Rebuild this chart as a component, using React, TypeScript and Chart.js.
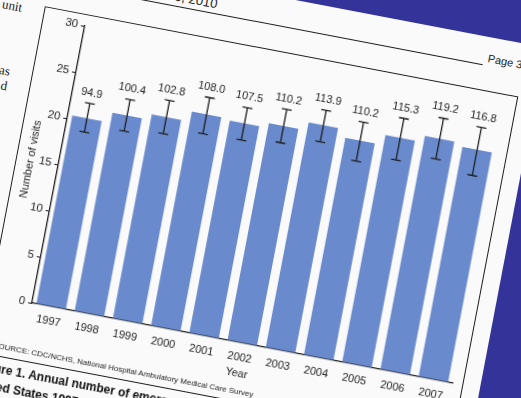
import React, { useEffect, useRef } from 'react';
import { Chart, registerables } from 'chart.js';

Chart.register(...registerables);

// ---- data ----
const years = ['1997', '1998', '1999', '2000', '2001', '2002', '2003', '2004', '2005', '2006', '2007'];
const barValues = [20.4, 21.5, 22.1, 23.2, 23.0, 23.5, 24.4, 23.5, 24.6, 25.3, 24.9];
const errorLow = [18.9, 19.8, 20.3, 21.1, 21.2, 21.7, 22.6, 21.3, 22.2, 23.1, 22.1];
const errorHigh = [22.0, 23.2, 23.9, 25.0, 24.7, 25.3, 26.0, 25.5, 26.7, 27.5, 27.3];
const visitLabels = ['94.9', '100.4', '102.8', '108.0', '107.5', '110.2', '113.9', '110.2', '115.3', '119.2', '116.8'];
const yMin = 0;
const yMax = 30;
const yStep = 5;

const SANS = '"Liberation Sans", Arial, sans-serif';
const SERIF = '"Liberation Serif", "Times New Roman", serif';
const INK = '#1e1e1e';

const errorBarPlugin = {
  id: 'errorBars',
  afterDatasetsDraw(chart: any) {
    const { ctx } = chart;
    const y = chart.scales.y;
    const meta = chart.getDatasetMeta(0);
    ctx.save();
    meta.data.forEach((bar: any, i: number) => {
      const x = bar.x;
      const yl = y.getPixelForValue(errorLow[i]);
      const yh = y.getPixelForValue(errorHigh[i]);
      ctx.strokeStyle = INK;
      ctx.lineWidth = 1.3;
      ctx.beginPath();
      ctx.moveTo(x, yl);
      ctx.lineTo(x, yh);
      ctx.moveTo(x - 5, yl);
      ctx.lineTo(x + 5, yl);
      ctx.moveTo(x - 5, yh);
      ctx.lineTo(x + 5, yh);
      ctx.stroke();
      ctx.fillStyle = INK;
      ctx.font = '11px ' + SANS;
      ctx.textAlign = 'center';
      ctx.textBaseline = 'middle';
      ctx.fillText(visitLabels[i], x, yh - 10.5);
    });
    ctx.restore();
  },
};

function BarChart() {
  const ref = useRef<HTMLCanvasElement | null>(null);
  useEffect(() => {
    if (!ref.current) return;
    const chart = new Chart(ref.current, {
      type: 'bar',
      data: {
        labels: years,
        datasets: [
          {
            data: barValues,
            backgroundColor: '#6a8ace',
            borderWidth: 0,
            barPercentage: 0.77,
            categoryPercentage: 1.0,
          },
        ],
      },
      plugins: [errorBarPlugin],
      options: {
        responsive: false,
        animation: false,
        devicePixelRatio: 1,
        layout: { padding: { top: 38, right: 17, left: 0, bottom: 0 } },
        plugins: { legend: { display: false }, tooltip: { enabled: false } },
        scales: {
          x: {
            afterFit: (s: any) => {
              s.height = 50;
            },
            grid: { display: false, drawTicks: false },
            border: { display: true, color: INK, width: 1.3 },
            ticks: { color: INK, font: { size: 11, family: SANS }, padding: 8, maxRotation: 0, autoSkip: false },
            title: {
              display: true,
              text: 'Year',
              color: INK,
              font: { size: 11, family: SANS },
              padding: { top: 0, bottom: 12 },
            },
          },
          y: {
            min: yMin,
            max: yMax,
            afterFit: (s: any) => {
              s.width = 60;
            },
            grid: { display: true, drawOnChartArea: false, drawTicks: true, tickLength: 4, color: INK, lineWidth: 1 },
            border: { display: true, color: INK, width: 1.3 },
            ticks: { stepSize: yStep, color: INK, font: { size: 11.5, family: SANS }, padding: 3 },
            title: {
              display: true,
              text: 'Number of visits',
              color: INK,
              font: { size: 11, family: SANS },
              padding: { top: 25, bottom: 0 },
            },
          },
        },
      },
    });
    return () => chart.destroy();
  }, []);
  return (
    <canvas
      ref={ref}
      width={505}
      height={370}
      style={{ position: 'absolute', left: -60, top: -320, width: 505, height: 370 }}
    />
  );
}

const abs = (o: any) => ({ position: 'absolute' as const, whiteSpace: 'nowrap' as const, ...o });

export default function App() {
  return (
    <div
      style={{
        position: 'fixed',
        left: 0,
        top: 0,
        width: 521,
        height: 398,
        overflow: 'hidden',
        background: '#34339a',
      }}
    >
      <div
        style={{
          position: 'absolute',
          left: 32,
          top: 303,
          width: 0,
          height: 0,
          transform: 'rotate(10.8deg)',
          transformOrigin: '0 0',
        }}
      >
        {/* page */}
        <div style={abs({ left: -700, top: -347, width: 1156, height: 800, background: '#fafafa' })} />
        {/* header */}
        <div style={abs({ left: -700, top: -319, width: 1098, height: 1.2, background: INK })} />
        <div
          style={abs({
            right: -126,
            top: -336,
            font: '13px ' + SANS,
            lineHeight: '16px',
            color: '#222',
          })}
        >
          National Health Statistics Reports ■ Number 26 ■ August 6, 2010
        </div>
        <div style={abs({ left: 402, top: -333, font: '11px ' + SANS, lineHeight: '14px', color: '#222' })}>Page 3</div>
        {/* left column fragments */}
        <div style={abs({ right: 65, top: -296, font: '13px ' + SERIF, lineHeight: '16px', color: '#222' })}>unit</div>
        <div style={abs({ right: 65, top: -231, font: '13px ' + SERIF, lineHeight: '16px', color: '#222' })}>as</div>
        <div style={abs({ right: 65, top: -216, font: '13px ' + SERIF, lineHeight: '16px', color: '#222' })}>d</div>
        {/* frame */}
        <div
          style={abs({
            left: -43,
            top: -294,
            width: 481.5,
            height: 353,
            border: '1.3px solid ' + INK,
            boxSizing: 'border-box',
          })}
        />
        <BarChart />
        {/* source and caption */}
        <div style={abs({ left: -30, top: 43, font: '8px ' + SANS, lineHeight: '11px', color: '#222' })}>
          SOURCE: CDC/NCHS, National Hospital Ambulatory Medical Care Survey
        </div>
        <div style={abs({ left: -43, top: 62, font: 'bold 12px ' + SANS, lineHeight: '18px', color: '#111' })}>
          Figure 1. Annual number of emergency department visits and emergency departments in the
          <br />
          United States 1997–2007
        </div>
      </div>
    </div>
  );
}
